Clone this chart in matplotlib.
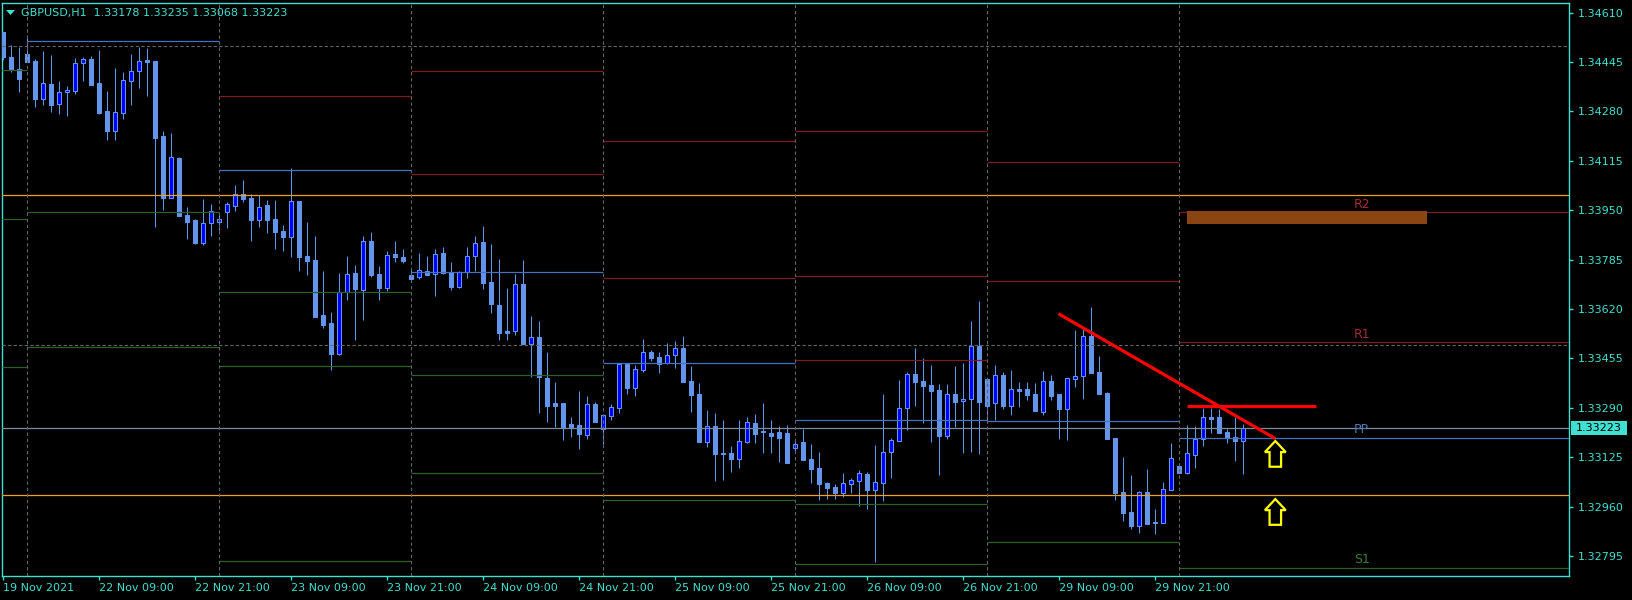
import matplotlib
matplotlib.use("Agg")
import matplotlib.pyplot as plt
from matplotlib.patches import Polygon, Rectangle

# GBPUSD H1 bars (oldest first)
opens = [1.34545, 1.34461, 1.34422, 1.34472, 1.34448, 1.34322, 1.34371, 1.34306, 1.34344, 1.34349,
         1.34443, 1.34455, 1.34375, 1.34281, 1.34215, 1.34276, 1.34382, 1.34414, 1.34452, 1.34448,
         1.34198, 1.33992, 1.34124, 1.33934, 1.33917, 1.33841, 1.33906, 1.33912, 1.33944, 1.33965,
         1.34004, 1.33991, 1.33918, 1.33967, 1.33921, 1.33881, 1.33861, 1.33981, 1.33797, 1.33784,
         1.33600, 1.33573, 1.33471, 1.33676, 1.33740, 1.33684, 1.33848, 1.33737, 1.33691, 1.33804,
         1.33794, 1.33735, 1.33728, 1.33747, 1.33736, 1.33806, 1.33743, 1.33692, 1.33745, 1.33797,
         1.33844, 1.33710, 1.33632, 1.33548, 1.33546, 1.33702, 1.33502, 1.33525, 1.33390, 1.33306,
         1.33306, 1.33236, 1.33233, 1.33200, 1.33303, 1.33220, 1.33264, 1.33290, 1.33436, 1.33357,
         1.33417, 1.33475, 1.33461, 1.33439, 1.33465, 1.33491, 1.33380, 1.33336, 1.33177, 1.33229,
         1.33139, 1.33138, 1.33120, 1.33177, 1.33239, 1.33210, 1.33206, 1.33209, 1.33206, 1.33156,
         1.33176, 1.33119, 1.33089, 1.33039, 1.33025, 1.33005, 1.33036, 1.33047, 1.33070, 1.33016,
         1.33040, 1.33141, 1.33180, 1.33288, 1.33402, 1.33380, 1.33366, 1.33349, 1.33197, 1.33336,
         1.33312, 1.33318, 1.33496, 1.33386, 1.33305, 1.33399, 1.33297, 1.33353, 1.33353, 1.33336,
         1.33277, 1.33379, 1.33336, 1.33287, 1.33387, 1.33395, 1.33529, 1.33409, 1.33339, 1.33189,
         1.33009, 1.32942, 1.32895, 1.33009, 1.32910, 1.32905, 1.33016, 1.33096, 1.33071, 1.33133,
         1.33185, 1.33258, 1.33258, 1.33209, 1.33191, 1.33178]
highs = [1.34545, 1.34502, 1.34496, 1.34529, 1.34454, 1.34482, 1.34468, 1.34382, 1.34365, 1.34457,
         1.34461, 1.34465, 1.34485, 1.34349, 1.34425, 1.34413, 1.34472, 1.34496, 1.34491, 1.34448,
         1.34214, 1.34207, 1.34129, 1.33962, 1.33921, 1.33987, 1.33971, 1.33940, 1.33978, 1.34034,
         1.34051, 1.34004, 1.34000, 1.33984, 1.33984, 1.33901, 1.34091, 1.33981, 1.33910, 1.33864,
         1.33747, 1.33610, 1.33739, 1.33797, 1.33767, 1.33864, 1.33877, 1.33764, 1.33814, 1.33847,
         1.33820, 1.33757, 1.33807, 1.33797, 1.33820, 1.33827, 1.33776, 1.33747, 1.33828, 1.33864,
         1.33897, 1.33837, 1.33786, 1.33690, 1.33736, 1.33783, 1.33597, 1.33580, 1.33476, 1.33376,
         1.33306, 1.33259, 1.33346, 1.33329, 1.33309, 1.33266, 1.33303, 1.33436, 1.33436, 1.33432,
         1.33520, 1.33482, 1.33476, 1.33505, 1.33513, 1.33530, 1.33430, 1.33372, 1.33283, 1.33273,
         1.33249, 1.33162, 1.33248, 1.33259, 1.33269, 1.33305, 1.33249, 1.33229, 1.33233, 1.33182,
         1.33219, 1.33169, 1.33142, 1.33043, 1.33035, 1.33072, 1.33057, 1.33083, 1.33076, 1.33167,
         1.33336, 1.33188, 1.33383, 1.33409, 1.33490, 1.33455, 1.33433, 1.33369, 1.33370, 1.33430,
         1.33439, 1.33580, 1.33647, 1.33386, 1.33433, 1.33409, 1.33416, 1.33376, 1.33376, 1.33373,
         1.33413, 1.33400, 1.33336, 1.33389, 1.33550, 1.33552, 1.33627, 1.33462, 1.33344, 1.33189,
         1.33126, 1.33066, 1.33012, 1.33086, 1.32953, 1.33043, 1.33173, 1.33096, 1.33233, 1.33229,
         1.33289, 1.33289, 1.33286, 1.33220, 1.33258, 1.33235]
lows = [1.34452, 1.34413, 1.34346, 1.34446, 1.34296, 1.34301, 1.34279, 1.34271, 1.34265, 1.34338,
        1.34382, 1.34368, 1.34271, 1.34184, 1.34184, 1.34256, 1.34302, 1.34359, 1.34332, 1.33895,
        1.33951, 1.33992, 1.33931, 1.33853, 1.33837, 1.33834, 1.33864, 1.33884, 1.33892, 1.33948,
        1.33978, 1.33848, 1.33895, 1.33875, 1.33819, 1.33814, 1.33795, 1.33748, 1.33734, 1.33594,
        1.33555, 1.33417, 1.33466, 1.33650, 1.33517, 1.33583, 1.33726, 1.33650, 1.33681, 1.33778,
        1.33773, 1.33710, 1.33720, 1.33734, 1.33664, 1.33737, 1.33684, 1.33690, 1.33723, 1.33748,
        1.33686, 1.33607, 1.33516, 1.33516, 1.33533, 1.33502, 1.33394, 1.33274, 1.33244, 1.33227,
        1.33182, 1.33192, 1.33152, 1.33186, 1.33242, 1.33169, 1.33249, 1.33274, 1.33337, 1.33330,
        1.33411, 1.33447, 1.33407, 1.33435, 1.33424, 1.33377, 1.33277, 1.33177, 1.33160, 1.33047,
        1.33049, 1.33076, 1.33089, 1.33172, 1.33172, 1.33139, 1.33139, 1.33109, 1.33106, 1.33139,
        1.33116, 1.33038, 1.32981, 1.32984, 1.32986, 1.32993, 1.33004, 1.32962, 1.32953, 1.32775,
        1.32980, 1.33057, 1.33178, 1.33217, 1.33297, 1.33238, 1.33177, 1.33067, 1.33185, 1.33227,
        1.33140, 1.33143, 1.33137, 1.33238, 1.33249, 1.33286, 1.33267, 1.33294, 1.33316, 1.33280,
        1.33267, 1.33316, 1.33187, 1.33183, 1.33360, 1.33320, 1.33405, 1.33336, 1.33186, 1.32982,
        1.32912, 1.32886, 1.32871, 1.32903, 1.32868, 1.32905, 1.33016, 1.33071, 1.33068, 1.33090,
        1.33163, 1.33205, 1.33205, 1.33173, 1.33113, 1.33068]
closes = [1.34462, 1.34422, 1.34388, 1.34446, 1.34322, 1.34374, 1.34302, 1.34344, 1.34351, 1.34442,
          1.34454, 1.34369, 1.34274, 1.34215, 1.34277, 1.34385, 1.34415, 1.34448, 1.34445, 1.34192,
          1.33991, 1.34128, 1.33931, 1.33910, 1.33841, 1.33906, 1.33947, 1.33921, 1.33971, 1.34004,
          1.33987, 1.33917, 1.33961, 1.33917, 1.33878, 1.33860, 1.33981, 1.33795, 1.33781, 1.33594,
          1.33566, 1.33471, 1.33676, 1.33736, 1.33687, 1.33846, 1.33735, 1.33691, 1.33799, 1.33795,
          1.33781, 1.33721, 1.33750, 1.33735, 1.33803, 1.33741, 1.33694, 1.33745, 1.33797, 1.33839,
          1.33708, 1.33636, 1.33541, 1.33541, 1.33702, 1.33504, 1.33525, 1.33394, 1.33297, 1.33297,
          1.33226, 1.33227, 1.33202, 1.33303, 1.33242, 1.33266, 1.33293, 1.33436, 1.33357, 1.33420,
          1.33475, 1.33457, 1.33437, 1.33465, 1.33489, 1.33377, 1.33334, 1.33177, 1.33229, 1.33137,
          1.33137, 1.33119, 1.33178, 1.33241, 1.33202, 1.33210, 1.33197, 1.33189, 1.33106, 1.33169,
          1.33116, 1.33086, 1.33035, 1.33022, 1.33005, 1.33039, 1.33050, 1.33072, 1.33016, 1.33041,
          1.33141, 1.33181, 1.33288, 1.33402, 1.33377, 1.33364, 1.33347, 1.33197, 1.33336, 1.33310,
          1.33319, 1.33496, 1.33310, 1.33297, 1.33399, 1.33297, 1.33352, 1.33347, 1.33333, 1.33280,
          1.33379, 1.33330, 1.33287, 1.33389, 1.33395, 1.33529, 1.33405, 1.33336, 1.33186, 1.33005,
          1.32940, 1.32895, 1.33009, 1.32903, 1.32905, 1.33019, 1.33121, 1.33071, 1.33138, 1.33185,
          1.33258, 1.33253, 1.33207, 1.33189, 1.33178, 1.33223]

time_labels = ["19 Nov 2021", "22 Nov 09:00", "22 Nov 21:00", "23 Nov 09:00", "23 Nov 21:00",
               "24 Nov 09:00", "24 Nov 21:00", "25 Nov 09:00", "25 Nov 21:00", "26 Nov 09:00",
               "26 Nov 21:00", "29 Nov 09:00", "29 Nov 21:00"]
price_ticks = [1.34610, 1.34445, 1.34280, 1.34115, 1.33950, 1.33785,
               1.33620, 1.33455, 1.33290, 1.33125, 1.32960, 1.32795]

# day separators (bar index of midnight) and daily pivot levels
day_starts = [3, 27, 51, 75, 99, 123, 147]
resist = [[], [], [1.34330], [1.34414, 1.34070], [1.34180, 1.33723],
          [1.34214, 1.33729, 1.33449], [1.34110, 1.33712], [1.33943, 1.33509]]
pivot = [None, 1.34517, 1.34083, 1.33743, 1.33439, 1.33248, 1.33245, 1.33188]
support = [[1.34417, 1.33920, 1.33425], [1.33943, 1.33494], [1.33676, 1.33429, 1.32777],
           [1.33399, 1.33071], [1.32981], [1.32968, 1.32767], [1.32843], [1.32754]]
level_names = ["R2", "R1", "PP", "S1"]
level_prices = [1.33968, 1.33536, 1.33216, 1.32782]

round_major = [1.34000, 1.33000]
round_minor = [1.34500, 1.33500]

# hand drawn objects
trend_x = [131.9, 159.0]
trend_y = [1.33604, 1.33187]
flat_x = [147.9, 164.1]
flat_y = 1.33296
zone_x = [147.9, 178.0]
zone_y = [1.33904, 1.33947]
arrow_x = [159.0, 159.0]
arrow_tip = [1.33179, 1.32985]

symbol = "GBPUSD,H1"

W, H = 1633, 600
BG = "black"
AXC = "#40E0D0"
BULL_FILL = "#0000FF"
CANDLE = "#6495ED"
RED = "#7E1B24"
BLUE = "#4670C0"
GREEN = "#2D5F28"
GRAY = "#646464"

fig = plt.figure(figsize=(W / 100, H / 100), dpi=100, facecolor=BG)
ax = fig.add_axes([2.5 / W, 24 / H, 1566.5 / W, 573.5 / H])
ax.set_facecolor(BG)
x_left, x_right = -0.1, 195.71
ax.set_xlim(x_left, x_right)
ax.set_ylim(1.32728, 1.34644)

n = len(opens)
xs = list(range(n))

# wicks
ax.vlines(xs, lows, highs, color=CANDLE, lw=0.75, zorder=3)

# bodies
bottoms, heights, fills = [], [], []
for o, c in zip(opens, closes):
    bottoms.append(min(o, c))
    heights.append(max(abs(c - o), 0.000012))
    fills.append(BULL_FILL if c > o else CANDLE)
ax.bar(xs, heights, bottom=bottoms, width=0.52, color=fills, edgecolor=CANDLE,
       linewidth=0.75, zorder=4)

# round number levels
for p in round_major:
    ax.axhline(p, color="#F0A020", lw=0.9, zorder=5)
for p in round_minor:
    ax.axhline(p, color=GRAY, lw=0.8, ls=(0, (3, 2)), zorder=5)

# pivot levels per day
bounds = [x_left] + day_starts + [x_right]
for d in range(len(bounds) - 1):
    x0, x1 = bounds[d], bounds[d + 1]
    for p in resist[d]:
        ax.hlines(p, x0, x1, color=RED, lw=0.9, zorder=5)
    if pivot[d] is not None:
        ax.hlines(pivot[d], x0, x1, color=BLUE, lw=0.9, zorder=5)
    for p in support[d]:
        ax.hlines(p, x0, x1, color=GREEN, lw=0.9, zorder=5)

for xd in day_starts:
    ax.axvline(xd, color=GRAY, lw=0.8, ls=(0, (3, 2.5)), zorder=6)

# bid line
ax.axhline(closes[-1], color="#7A8CA0", lw=0.9, zorder=5)

label_colors = ["#A02C32", "#A02C32", "#5278B8", "#3C7E32"]
for name, p, col in zip(level_names, level_prices, label_colors):
    ax.text(169.8, p, name, color=col, fontsize=9, ha="center", va="center", zorder=7)

# objects
ax.add_patch(Rectangle((zone_x[0], zone_y[0]), zone_x[1] - zone_x[0], zone_y[1] - zone_y[0],
                       facecolor="#8B4513", edgecolor="none", zorder=6))
ax.plot(trend_x, trend_y, color="#FF0000", lw=2.3, zorder=8, solid_capstyle="butt")
ax.plot(flat_x, [flat_y, flat_y], color="#FF0000", lw=2.3, zorder=8, solid_capstyle="butt")

hw, sw = 1.3, 0.72
hh, ln = 0.00037, 0.00086
for ax_x, tip in zip(arrow_x, arrow_tip):
    pts = [(ax_x, tip), (ax_x + hw, tip - hh), (ax_x + sw, tip - hh), (ax_x + sw, tip - ln),
           (ax_x - sw, tip - ln), (ax_x - sw, tip - hh), (ax_x - hw, tip - hh)]
    ax.add_patch(Polygon(pts, closed=True, facecolor=BG, edgecolor="#FFFF00", lw=1.6, zorder=8))

# axes styling
for s in ax.spines.values():
    s.set_color(AXC)
    s.set_linewidth(1)
ax.yaxis.tick_right()
ax.set_yticks(price_ticks)
ax.set_yticklabels([f"{p:.5f}" for p in price_ticks])
ax.set_xticks(list(range(0, 12 * len(time_labels), 12)))
ax.set_xticklabels(time_labels, ha="left")
ax.tick_params(axis="both", colors=AXC, labelcolor=AXC, labelsize=8, length=3, width=1)
ax.tick_params(axis="y", pad=3)
ax.tick_params(axis="x", pad=2)

# header text
fig.text(21 / W, 1 - 12.7 / H, f"{symbol}  {opens[-1]:.5f} {highs[-1]:.5f} {lows[-1]:.5f} {closes[-1]:.5f}",
         color=AXC, fontsize=8, ha="left", va="center")
tri = [(6 / W, 1 - 10 / H), (15 / W, 1 - 10 / H), (10.5 / W, 1 - 15 / H)]
fig.patches.append(Polygon(tri, closed=True, transform=fig.transFigure, facecolor=AXC, edgecolor="none"))

# current price tag
fig.patches.append(Rectangle((1571 / W, 1 - 435 / H), 56 / W, 14 / H, transform=fig.transFigure,
                             facecolor=AXC, edgecolor="none"))
fig.text(1599 / W, 1 - 428 / H, f"{closes[-1]:.5f}", color="black", fontsize=8, ha="center", va="center")

fig.savefig("out.png", dpi=100, facecolor=BG)
